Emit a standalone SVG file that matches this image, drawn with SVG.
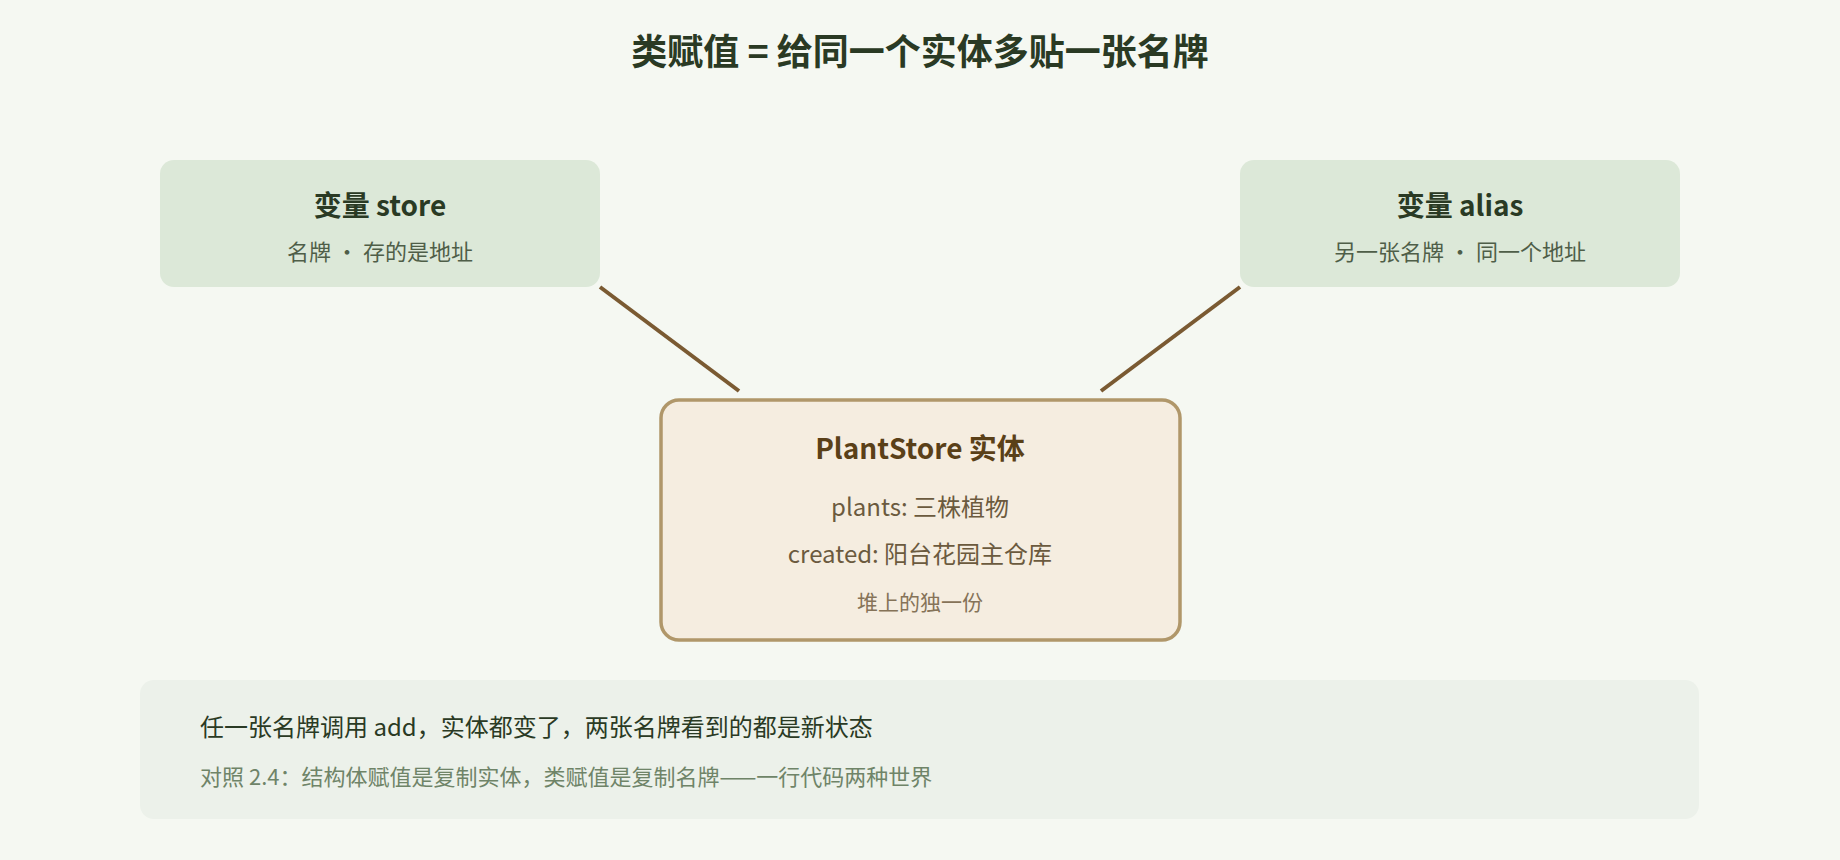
<svg xmlns="http://www.w3.org/2000/svg" width="1840" height="860" viewBox="0 0 1840 860">
<style>
text{font-family:"Noto Sans CJK SC","Noto Sans",sans-serif}
.t{font-weight:bold;fill:#2a3a24;text-anchor:middle}
.s{fill:#4f5e48;text-anchor:middle;font-size:22px}
.c{fill:#6b5a3e;text-anchor:middle;font-size:24px}
.var{fill:#dce8d8}
.conn{stroke:#7a5a32;stroke-width:4;fill:none}
</style>
<rect width="1840" height="860" fill="#f5f8f2"/>
<text x="920" y="65" class="t" font-size="36">类赋值 = 给同一个实体多贴一张名牌</text>
<g id="connectors">
<line class="conn" x1="600" y1="287" x2="739" y2="391"/>
<line class="conn" x1="1240" y1="287" x2="1101" y2="391"/>
</g>
<g id="store">
<rect class="var" x="160" y="160" width="440" height="127" rx="14"/>
<text x="380" y="216" class="t" font-size="28">变量 store</text>
<text x="380" y="260" class="s">名牌 · 存的是地址</text>
</g>
<g id="alias">
<rect class="var" x="1240" y="160" width="440" height="127" rx="14"/>
<text x="1460" y="216" class="t" font-size="28">变量 alias</text>
<text x="1460" y="260" class="s">另一张名牌 · 同一个地址</text>
</g>
<g id="entity">
<rect x="661" y="400" width="519" height="240" rx="18" fill="#f5ede0" stroke="#b0976a" stroke-width="3.5"/>
<text x="920" y="459" class="t" font-size="28" fill="#5a4018" style="fill:#5a4018">PlantStore 实体</text>
<text x="920" y="516" class="c">plants: 三株植物</text>
<text x="920" y="563" class="c">created: 阳台花园主仓库</text>
<text x="920" y="610" class="c" font-size="21" style="font-size:21px;fill:#857358">堆上的独一份</text>
</g>
<g id="note">
<rect x="140" y="680" width="1559" height="139" rx="14" fill="#ecf1ea"/>
<text x="200" y="736" font-size="24" fill="#2a3a24">任一张名牌调用 add，实体都变了，两张名牌看到的都是新状态</text>
<text x="200" y="785" font-size="22" fill="#6f8468">对照 2.4：结构体赋值是复制实体，类赋值是复制名牌——一行代码两种世界</text>
</g>
</svg>
